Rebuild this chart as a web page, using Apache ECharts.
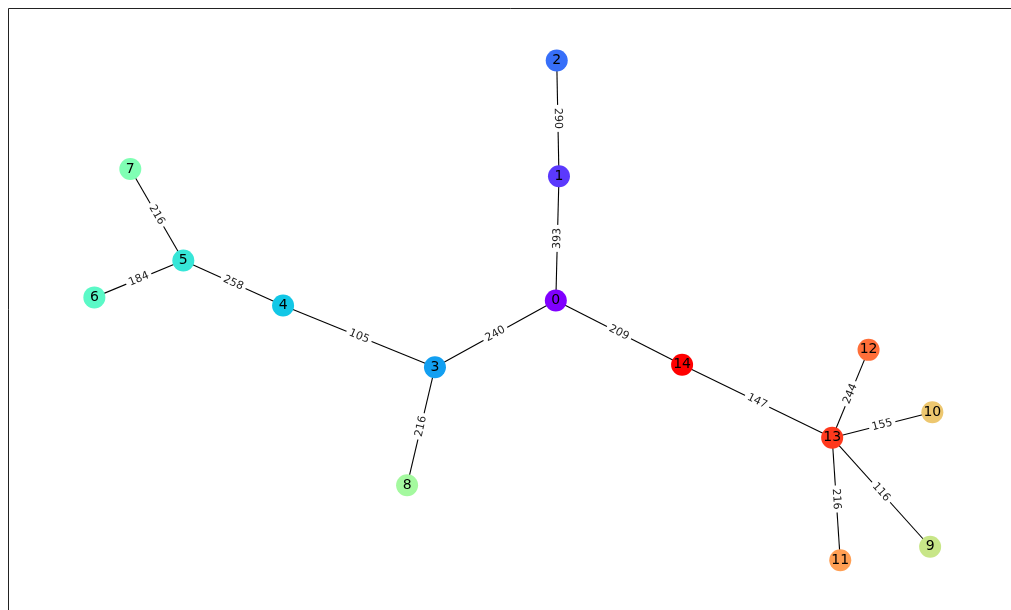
<!DOCTYPE html>
<html>
<head>
<meta charset="utf-8">
<script src="https://cdn.jsdelivr.net/npm/echarts@6/dist/echarts.min.js"></script>
<style>
html,body{margin:0;padding:0;background:#fff;}
#chart{width:1011px;height:610px;}
</style>
</head>
<body>
<div id="chart"></div>
<script>
// Node names and layout positions (layout units)
const nodeNames = ['0','1','2','3','4','5','6','7','8','9','10','11','12','13','14'];
const nodeX = [0, 0.007, 0.002, -0.269, -0.607, -0.829, -1.027, -0.947, -0.331, 0.833, 0.838, 0.633, 0.696, 0.615, 0.281];
const nodeY = [0, 0.277, 0.535, -0.149, -0.011, 0.089, 0.007, 0.293, -0.412, -0.549, -0.249, -0.579, -0.110, -0.306, -0.143];
const nodeColors = ['#8000ff','#5b39fd','#376ff9','#129ff1','#12c7e6','#37e6d8','#5bf9c7','#80ffb4','#a4f99f','#c8e688','#edc76f','#ff9f54','#ff6f39','#ff391d','#ff0000'];
// Edges
const edgeSource = [0, 1, 0, 0, 3, 4, 5, 5, 3, 14, 13, 13, 13, 13];
const edgeTarget = [1, 2, 3, 14, 4, 5, 7, 6, 8, 13, 12, 10, 9, 11];
const edgeWeight = [393, 290, 240, 209, 105, 258, 216, 184, 216, 147, 244, 155, 116, 216];

const nodes = nodeNames.map((n, i) => ({
  name: n,
  value: [nodeX[i], nodeY[i]],
  itemStyle: { color: nodeColors[i] }
}));
const links = edgeSource.map((s, i) => ({
  source: s,
  target: edgeTarget[i],
  value: edgeWeight[i]
}));

const chart = echarts.init(document.getElementById('chart'));
chart.setOption({
  animation: false,
  backgroundColor: '#fff',
  grid: { left: 0, right: 0, top: 0, bottom: 0 },
  xAxis: { type: 'value', min: -1.237, max: 1.013, show: false },
  yAxis: { type: 'value', min: -0.69, max: 0.67, show: false },
  graphic: [{
    type: 'rect',
    shape: { x: 8.5, y: 8.5, width: 1100, height: 700 },
    style: { fill: null, stroke: '#222', lineWidth: 1 },
    silent: true,
    z: -1
  }],
  series: [{
    type: 'graph',
    coordinateSystem: 'cartesian2d',
    layout: 'none',
    symbol: 'circle',
    symbolSize: 22,
    data: nodes,
    links: links,
    label: {
      show: true,
      position: 'inside',
      color: '#000',
      fontFamily: 'DejaVu Sans',
      fontSize: 14
    },
    lineStyle: { color: '#000', width: 1.1, opacity: 1, curveness: 0 },
    edgeLabel: {
      show: true,
      position: 'middle',
      verticalAlign: 'middle',
      distance: 0,
      formatter: p => String(p.value),
      color: '#222',
      fontFamily: 'DejaVu Sans',
      fontSize: 11,
      backgroundColor: '#fff',
      padding: [1, 3]
    },
    emphasis: { disabled: true }
  }]
});
</script>
</body>
</html>
